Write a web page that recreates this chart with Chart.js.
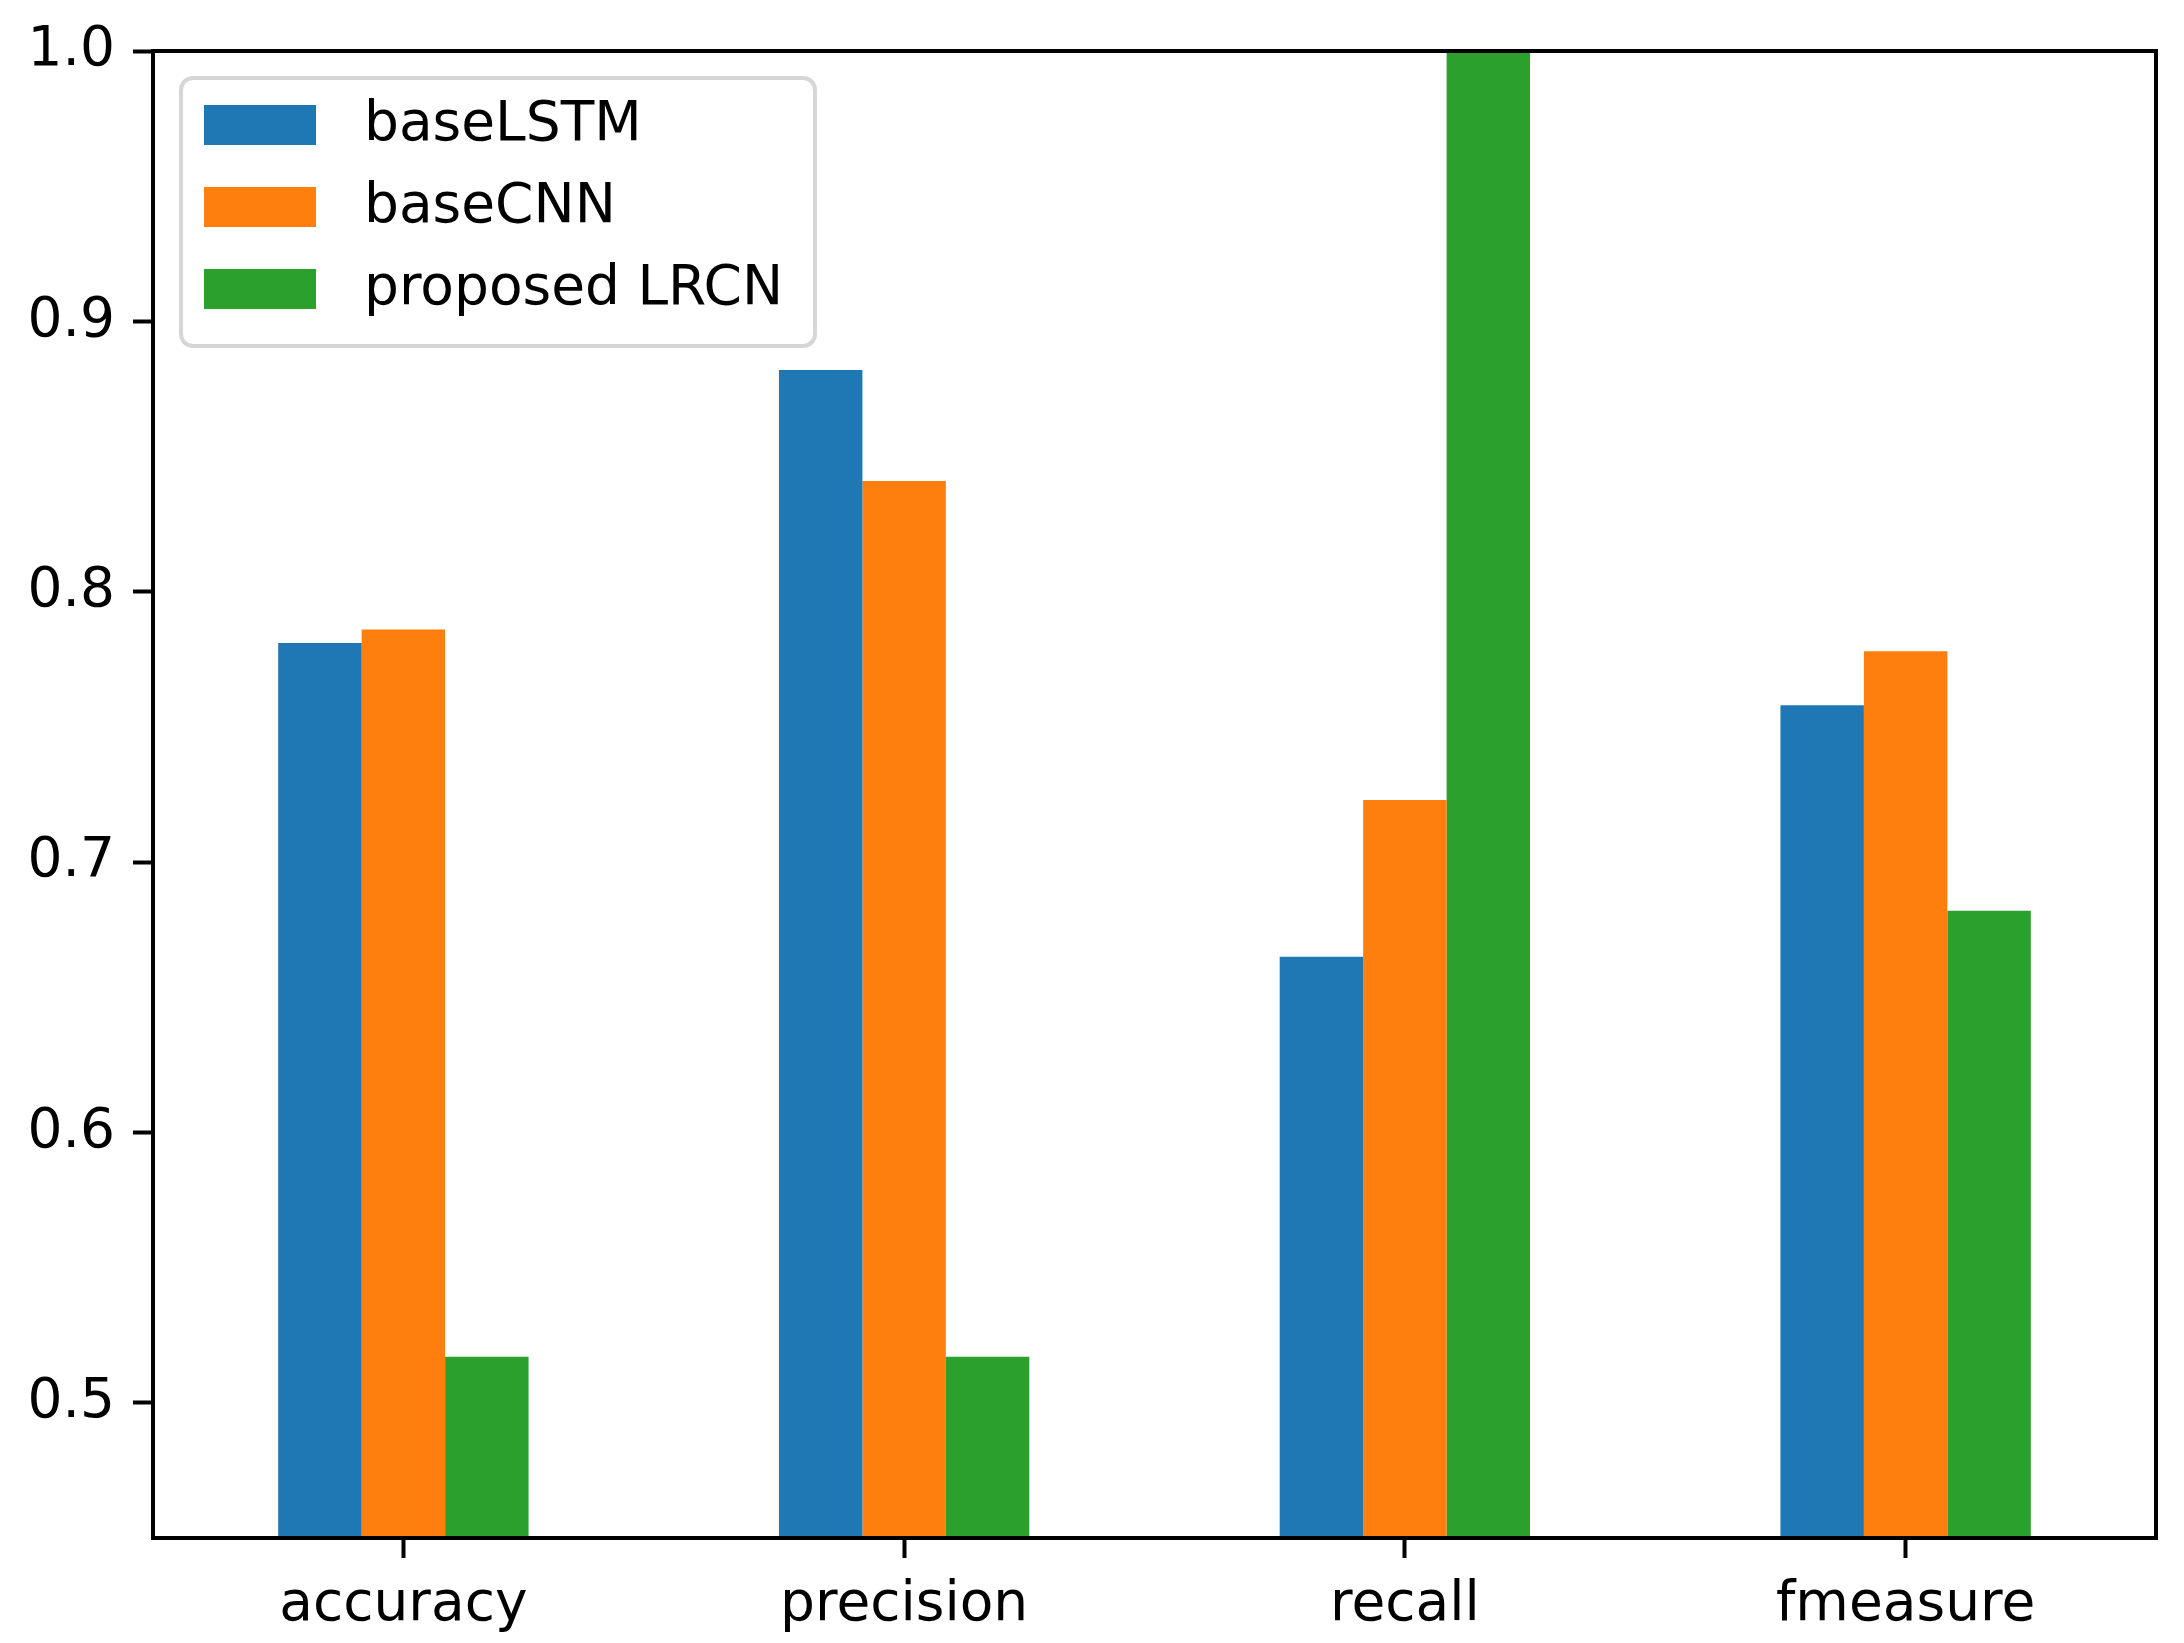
<!DOCTYPE html>
<html>
<head>
<meta charset="utf-8">
<script src="https://cdn.jsdelivr.net/npm/chart.js@4.4.1/dist/chart.umd.min.js"></script>
<style>
  html, body { margin: 0; padding: 0; background: #fff; }
  #wrap { width: 2184px; height: 1643px; }
</style>
</head>
<body>
<div id="wrap"><canvas id="chart" width="2184" height="1643"></canvas></div>
<script>
// ─── DATA ────────────────────────────────────────────────────────────────
const categories = ['accuracy', 'precision', 'recall', 'fmeasure'];
const seriesNames = ['baseLSTM', 'baseCNN', 'proposed LRCN'];
const baseLSTM = [0.781, 0.882, 0.665, 0.758];
const baseCNN = [0.786, 0.841, 0.723, 0.778];
const proposedLRCN = [0.517, 0.517, 1.0, 0.682];
const yTicks = [0.5, 0.6, 0.7, 0.8, 0.9, 1.0];
const yMin = 0.45, yMax = 1.0;

const colors = ['#1f77b4', '#ff7f0e', '#2ca02c'];
const FONT = "'DejaVu Sans', sans-serif";
const FONT_SIZE = 55;

// ─── PLUGINS ─────────────────────────────────────────────────────────────
// black frame round the axes, drawn above the bars like matplotlib spines
const framePlugin = {
  id: 'frame',
  afterDatasetsDraw(chart) {
    const { ctx, chartArea: a } = chart;
    ctx.save();
    ctx.strokeStyle = '#000';
    ctx.lineWidth = 4;
    ctx.strokeRect(a.left, a.top, a.right - a.left, a.bottom - a.top);
    ctx.restore();
  }
};

// matplotlib-style legend in the upper left of the plot area
const legendPlugin = {
  id: 'mplLegend',
  afterDraw(chart) {
    const { ctx, chartArea: a } = chart;
    const x0 = a.left + 28, y0 = a.top + 27, w = 634, h = 268, r = 12;
    ctx.save();
    ctx.fillStyle = 'rgba(255,255,255,0.8)';
    ctx.strokeStyle = '#d6d6d6';
    ctx.lineWidth = 4;
    ctx.beginPath();
    ctx.roundRect(x0, y0, w, h, r);
    ctx.fill();
    ctx.stroke();
    ctx.font = FONT_SIZE + 'px ' + FONT;
    ctx.textBaseline = 'middle';
    chart.data.datasets.forEach((ds, i) => {
      const cy = y0 + 47 + i * 82;
      ctx.fillStyle = ds.backgroundColor;
      ctx.fillRect(x0 + 23, cy - 20, 112, 40);
      ctx.fillStyle = '#000';
      ctx.fillText(ds.label, x0 + 183, cy + 1);
    });
    ctx.restore();
  }
};

// ─── CHART ───────────────────────────────────────────────────────────────
const values = [baseLSTM, baseCNN, proposedLRCN];
const datasets = seriesNames.map((name, i) => ({
  label: name,
  data: values[i],
  backgroundColor: colors[i],
  borderWidth: 0,
  categoryPercentage: 0.5,
  barPercentage: 1.0
}));

new Chart(document.getElementById('chart'), {
  type: 'bar',
  data: { labels: categories, datasets },
  options: {
    responsive: false,
    animation: false,
    devicePixelRatio: 1,
    layout: { padding: { top: 45, right: 28, left: 0, bottom: 0 } },
    plugins: { legend: { display: false }, tooltip: { enabled: false } },
    scales: {
      x: {
        offset: true,
        grid: { display: true, drawOnChartArea: false, offset: false, tickLength: 20, tickWidth: 4, tickColor: '#000' },
        border: { display: false },
        ticks: { color: '#000', font: { family: FONT, size: FONT_SIZE }, padding: 15, maxRotation: 0 },
        afterFit: s => { s.height = 1643 - 1538; }
      },
      y: {
        min: yMin, max: yMax,
        grid: { display: true, drawOnChartArea: false, tickLength: 20, tickWidth: 4, tickColor: '#000' },
        border: { display: false },
        ticks: { color: '#000', font: { family: FONT, size: FONT_SIZE }, padding: 18, callback: v => v.toFixed(1) },
        afterBuildTicks: s => { s.ticks = yTicks.map(v => ({ value: v })); },
        afterFit: s => { s.width = 153; }
      }
    }
  },
  plugins: [framePlugin, legendPlugin]
});
</script>
</body>
</html>
